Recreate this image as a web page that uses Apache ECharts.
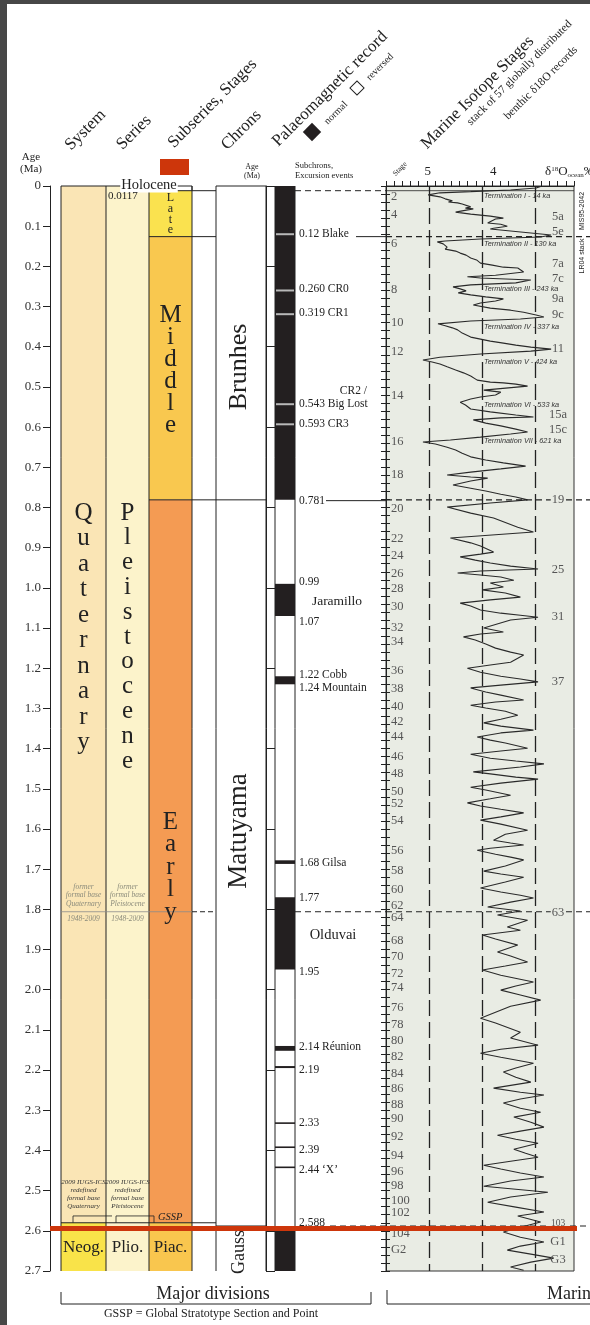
<!DOCTYPE html>
<html><head><meta charset="utf-8">
<script src="https://cdn.jsdelivr.net/npm/echarts@6/dist/echarts.min.js"></script>
<style>html,body{margin:0;padding:0;background:#fff}#c{width:590px;height:1325px}</style>
</head><body><div id="c"></div>
<script>
// ---------------- DATA ----------------
const systemUnits = [["Quaternary", 0, 2.58], ["Neog.", 2.58, 2.7]];
const seriesUnits = [["Pleistocene", 0, 2.58], ["Plio.", 2.58, 2.7]];
const stageUnits = [["Late", 0.0117, 0.126], ["Middle", 0.126, 0.781], ["Early", 0.781, 2.58], ["Piac.", 2.58, 2.7]];
const chronUnits = [["Brunhes", 0, 0.781], ["Matuyama", 0.781, 2.588], ["Gauss", 2.588, 2.7]];
const normalIntervals = [[0, 0.781], [0.99, 1.07], [1.22, 1.24], [1.678, 1.687], [1.77, 1.95], [2.14, 2.152], [2.19, 2.195], [2.33, 2.334], [2.39, 2.394], [2.44, 2.444], [2.588, 2.7]];
const excursions = [0.12, 0.26, 0.319, 0.543, 0.593];
const chronAgeLabels = [0.2, 0.6, 1.0, 1.2, 1.4, 1.8, 2.0, 2.2, 2.4];
const isoAxisLabels = [5, 4];
const isoGuideValues = [4.975, 4.155, 3.345];
const subchronLabels = [
  ["0.12 Blake", 0.12], ["0.260 CR0", 0.257], ["0.319 CR1", 0.315], ["0.543 Big Lost", 0.543],
  ["0.593 CR3", 0.591], ["0.781", 0.783], ["0.99", 0.985], ["1.07", 1.085], ["1.22 Cobb", 1.217],
  ["1.24 Mountain", 1.248], ["1.68 Gilsa", 1.684], ["1.77", 1.773], ["1.95", 1.955],
  ["2.14 Réunion", 2.142], ["2.19", 2.2], ["2.33", 2.331], ["2.39", 2.399], ["2.44 ‘X’", 2.449], ["2.588", 2.58]
];
const evenStages = [
  ["2",0.027],["4",0.072],["6",0.144],["8",0.259],["10",0.341],["12",0.413],["14",0.523],["16",0.637],
  ["18",0.719],["20",0.804],["22",0.878],["24",0.921],["26",0.966],["28",1.003],["30",1.048],["32",1.100],
  ["34",1.135],["36",1.205],["38",1.252],["40",1.297],["42",1.332],["44",1.371],["46",1.421],["48",1.463],
  ["50",1.508],["52",1.538],["54",1.580],["56",1.655],["58",1.705],["60",1.750],["62",1.792],["64",1.822],
  ["68",1.877],["70",1.919],["72",1.959],["74",1.996],["76",2.046],["78",2.086],["80",2.128],["82",2.168],
  ["84",2.208],["86",2.247],["88",2.285],["90",2.320],["92",2.367],["94",2.414],["96",2.454],["98",2.489],
  ["100",2.524],["102",2.556],["104",2.608],["G2",2.648]
];
const peakStages = [
  ["5a",0.077],["5e",0.1145],["7a",0.194],["7c",0.2315],["9a",0.281],["9c",0.321],["11",0.406],
  ["15a",0.570],["15c",0.607],["19",0.7815],["25",0.956],["31",1.073],["37",1.234],["63",1.809],
  ["103",2.581],["G1",2.628],["G3",2.673]
];
const terminations = [
  ["Termination I - 14 ka",0.025],["Termination II - 130 ka",0.144],["Termination III - 243 ka",0.256],
  ["Termination IV - 337 ka",0.351],["Termination V - 424 ka",0.438],["Termination VI - 533 ka",0.545],
  ["Termination VII - 621 ka",0.635]
];
// benthic d18O stack: [age Ma, d18O permil]
const d18O = [
[0.001,3.26],[0.005,3.33],[0.010,3.72],[0.014,4.33],[0.017,4.80],[0.022,4.98],[0.027,4.80],[0.032,4.72],
[0.037,4.61],[0.040,4.67],[0.042,4.53],[0.045,4.46],[0.052,4.33],[0.055,4.41],[0.057,4.29],[0.062,4.46],
[0.065,4.56],[0.070,4.33],[0.075,4.03],[0.080,3.83],[0.082,3.95],[0.092,4.07],[0.095,3.87],[0.100,3.77],
[0.105,3.98],[0.107,4.03],[0.112,3.72],[0.117,3.41],[0.122,3.10],[0.127,3.26],[0.132,4.18],[0.137,4.72],
[0.139,4.84],[0.144,4.75],[0.152,4.69],[0.157,4.72],[0.162,4.56],[0.167,4.49],[0.172,4.40],[0.179,4.33],
[0.184,4.24],[0.192,4.18],[0.197,4.00],[0.202,3.83],[0.204,3.61],[0.214,3.52],[0.222,3.95],[0.226,4.38],
[0.229,4.18],[0.234,3.41],[0.241,3.64],[0.246,4.33],[0.251,4.60],[0.256,4.49],[0.261,4.40],[0.266,4.52],
[0.271,4.33],[0.276,4.10],[0.281,3.83],[0.286,3.95],[0.291,4.18],[0.296,4.29],[0.304,4.03],[0.309,3.72],
[0.314,3.52],[0.321,3.33],[0.326,3.21],[0.331,3.57],[0.336,4.33],[0.343,4.83],[0.348,4.72],[0.353,4.61],
[0.358,4.53],[0.366,4.46],[0.376,4.33],[0.381,4.18],[0.386,4.03],[0.391,3.83],[0.396,3.64],[0.401,3.41],
[0.406,3.10],[0.411,3.41],[0.418,4.18],[0.426,4.80],[0.433,5.06],[0.438,4.92],[0.443,4.80],[0.450,4.69],
[0.458,4.56],[0.465,4.44],[0.473,4.33],[0.483,4.23],[0.488,4.03],[0.490,3.83],[0.493,3.64],[0.498,3.46],
[0.508,4.13],[0.513,3.87],[0.520,3.95],[0.525,4.18],[0.530,4.33],[0.538,4.49],[0.545,4.41],[0.555,4.33],
[0.562,4.03],[0.570,3.64],[0.575,3.37],[0.577,3.87],[0.582,4.29],[0.590,4.10],[0.597,3.87],[0.605,3.64],
[0.612,3.46],[0.617,3.72],[0.625,4.18],[0.632,4.64],[0.637,5.06],[0.642,4.87],[0.650,4.69],[0.657,4.56],
[0.665,4.46],[0.674,4.33],[0.682,4.10],[0.689,3.83],[0.697,3.49],[0.704,3.87],[0.712,4.33],[0.719,4.69],
[0.724,4.33],[0.727,4.07],[0.734,4.33],[0.744,4.60],[0.752,4.33],[0.759,4.10],[0.767,3.87],[0.774,3.64],
[0.781,3.46],[0.789,4.03],[0.799,4.69],[0.814,4.33],[0.826,3.98],[0.849,3.61],[0.861,3.37],[0.876,4.64],
[0.888,4.33],[0.896,4.18],[0.911,3.98],[0.916,4.18],[0.923,4.49],[0.931,4.26],[0.938,4.03],[0.946,3.72],
[0.953,3.30],[0.958,4.18],[0.963,4.53],[0.968,4.18],[0.973,3.87],[0.981,3.67],[0.988,4.03],[0.998,3.83],
[1.005,4.15],[1.013,3.80],[1.023,3.57],[1.030,4.03],[1.038,4.49],[1.045,4.33],[1.055,4.18],[1.063,3.87],
[1.068,3.57],[1.073,3.30],[1.080,3.72],[1.100,4.13],[1.110,3.83],[1.115,4.18],[1.122,4.44],[1.130,4.26],
[1.140,4.10],[1.150,3.95],[1.160,3.72],[1.167,3.52],[1.185,3.72],[1.192,4.03],[1.200,4.38],[1.210,4.18],
[1.220,3.87],[1.227,3.57],[1.234,3.30],[1.242,3.87],[1.249,4.33],[1.259,4.10],[1.267,3.87],[1.279,3.52],
[1.284,3.95],[1.292,4.33],[1.299,4.10],[1.307,3.80],[1.317,3.61],[1.327,3.87],[1.336,4.13],[1.344,3.87],
[1.354,3.37],[1.361,3.87],[1.371,4.23],[1.379,4.03],[1.386,3.80],[1.399,3.46],[1.406,3.87],[1.414,4.33],
[1.424,4.03],[1.431,3.64],[1.438,3.21],[1.446,3.57],[1.458,4.29],[1.463,4.03],[1.471,3.64],[1.476,3.30],
[1.486,3.87],[1.496,4.33],[1.503,4.10],[1.516,3.72],[1.525,4.03],[1.535,4.38],[1.543,4.18],[1.551,3.87],
[1.560,3.52],[1.570,3.87],[1.578,4.18],[1.588,3.87],[1.603,3.46],[1.613,3.80],[1.628,3.98],[1.635,3.72],
[1.640,3.52],[1.648,4.03],[1.653,4.23],[1.663,3.95],[1.670,3.72],[1.677,3.52],[1.692,3.80],[1.705,4.13],
[1.712,3.87],[1.720,3.52],[1.732,3.80],[1.747,4.18],[1.757,3.87],[1.765,3.57],[1.772,3.37],[1.782,3.72],
[1.794,4.07],[1.804,3.57],[1.814,3.92],[1.827,3.46],[1.844,3.77],[1.852,3.57],[1.864,4.15],[1.874,3.95],
[1.889,3.61],[1.906,3.92],[1.916,3.72],[1.931,3.46],[1.941,3.80],[1.951,4.15],[1.964,3.87],[1.981,3.37],
[1.991,3.64],[2.001,3.87],[2.013,3.57],[2.026,3.26],[2.041,3.72],[2.071,4.18],[2.083,3.95],[2.106,3.57],
[2.120,3.72],[2.138,3.30],[2.148,3.87],[2.158,4.18],[2.168,3.87],[2.183,3.37],[2.195,3.64],[2.205,3.83],
[2.218,3.64],[2.230,3.41],[2.245,3.98],[2.255,3.57],[2.262,3.21],[2.272,3.57],[2.282,3.83],[2.295,3.57],
[2.305,3.26],[2.317,3.67],[2.330,3.41],[2.342,3.21],[2.352,3.57],[2.362,3.92],[2.372,3.64],[2.382,3.30],
[2.397,3.67],[2.407,3.49],[2.417,3.30],[2.427,3.72],[2.437,4.13],[2.446,3.87],[2.456,3.57],[2.466,3.21],
[2.476,3.72],[2.489,4.13],[2.504,3.15],[2.516,3.72],[2.529,4.07],[2.541,3.64],[2.553,3.21],[2.563,3.61],
[2.578,3.26],[2.591,3.57],[2.603,3.83],[2.616,3.57],[2.628,3.21],[2.638,3.57],[2.648,3.77],[2.658,3.41],
[2.668,3.06],[2.678,3.41],[2.690,3.72],[2.698,3.52]
];

// ---------------- LAYOUT / STYLE ----------------
const SERIF = 'Liberation Serif';
const SANS = 'Liberation Sans';
const COLX = {system:[61,106], series:[106,149], stage:[149,192], chron:[216,266], mag:[275,295]};
const COLORS = {"Quaternary":"#FAE5B5","Neog.":"#F9E349","Pleistocene":"#FCF3CB","Plio.":"#FCF3CB",
  "Late":"#FAE24F","Middle":"#F9C84F","Early":"#F49B53","Piac.":"#F9C64E",
  "Brunhes":"#FFFFFF","Matuyama":"#FFFFFF","Gauss":"#FFFFFF"};
const INK = '#222';
const PANEL_BG = '#E9ECE4';

const chart = echarts.init(document.getElementById('c'));

function unitSeries(units, key) {
  return {
    type:'custom', xAxisIndex:0, yAxisIndex:0, silent:true, z:1,
    data: units.map(u => [0.5, u[1], u[2]]),
    renderItem: (params, api) => {
      const y0 = api.coord([0.5, api.value(1)])[1];
      const y1 = api.coord([0.5, api.value(2)])[1];
      const [xa, xb] = COLX[key];
      return {type:'rect', shape:{x:xa, y:y0, width:xb-xa, height:y1-y0},
        style:{fill: key === 'mag' ? '#231F20' : COLORS[units[params.dataIndex][0]]}};
    }
  };
}

const ageFmt = v => v === 0 ? '0' : (Math.round(v*10)/10).toFixed(1);

chart.setOption({
  animation:false,
  grid:[
    {left:50, top:186, width:340, height:1085},
    {left:266, top:186, width:9, height:1085},
    {left:386, top:186, width:188, height:1085, show:true, backgroundColor:PANEL_BG, borderColor:'#333', borderWidth:1}
  ],
  xAxis:[
    {gridIndex:0, type:'value', min:0, max:1, show:false},
    {gridIndex:1, type:'value', min:0, max:1, show:false},
    {gridIndex:2, type:'value', min:2.75, max:5.625, interval:0.125, inverse:true, position:'top',
      axisLine:{show:true, lineStyle:{color:INK, width:1}},
      axisTick:{show:true, length:5, lineStyle:{color:INK}},
      axisLabel:{show:false}, splitLine:{show:false}}
  ],
  yAxis:[
    {gridIndex:0, type:'value', min:0, max:2.7, interval:0.1, inverse:true,
      axisLine:{show:true, lineStyle:{color:INK, width:1}},
      axisTick:{show:true, length:7, lineStyle:{color:INK}},
      axisLabel:{formatter:ageFmt, fontFamily:SERIF, fontSize:13, color:'#333', margin:9},
      splitLine:{show:false}},
    {gridIndex:0, type:'value', min:0, max:2.7, interval:0.02, inverse:true,
      axisLine:{show:false}, axisTick:{show:true, inside:true, length:4, lineStyle:{color:INK}},
      axisLabel:{show:false}, splitLine:{show:false}},
    {gridIndex:1, type:'value', min:0, max:2.7, interval:0.2, inverse:true,
      axisLine:{show:true, lineStyle:{color:INK}},
      axisTick:{show:true, inside:true, length:9, lineStyle:{color:INK}},
      axisLabel:{formatter: v => chronAgeLabels.some(a => Math.abs(a - v) < 1e-6) ? v.toFixed(1) : '',
        fontFamily:SERIF, fontSize:13, color:'#333', margin:5},
      splitLine:{show:false}},
    {gridIndex:2, type:'value', min:0, max:2.7, interval:0.02, inverse:true,
      axisLine:{show:true, lineStyle:{color:INK}},
      axisTick:{show:true, length:5, lineStyle:{color:INK}},
      axisLabel:{show:false}, splitLine:{show:false}}
  ],
  series:[
    unitSeries(systemUnits, 'system'),
    unitSeries(seriesUnits, 'series'),
    unitSeries(stageUnits, 'stage'),
    unitSeries(chronUnits, 'chron'),
    unitSeries(normalIntervals.map(n => ['n', n[0], n[1]]), 'mag'),
    {type:'line', xAxisIndex:2, yAxisIndex:3, data:d18O.map(p => [p[1], p[0]]),
      showSymbol:false, symbol:'none', silent:true, z:5,
      lineStyle:{color:'#2a2a2a', width:1.1},
      markLine:{silent:true, symbol:'none', label:{show:false},
        lineStyle:{color:INK, width:1.3, type:[16,6]},
        data: isoGuideValues.map(v => ({xAxis:v}))}}
  ]
});

// --------------- annotations ---------------
const Y = a => chart.convertToPixel({yAxisIndex:0}, a);
const XI = v => chart.convertToPixel({xAxisIndex:2}, v);
const G = [];
function L(x1, y1, x2, y2, o) {
  o = o || {};
  G.push({type:'line', silent:true, z:o.z || 10, shape:{x1, y1, x2, y2},
    style:{stroke:o.c || INK, lineWidth:o.w || 1, lineDash:o.dash || null}});
}
function T(x, y, text, o) {
  o = o || {};
  const st = {text, fill:o.c || INK, fontFamily:o.ff || SERIF, fontSize:o.fs || 12,
    fontStyle:o.it ? 'italic' : 'normal', align:o.al || 'center', verticalAlign:o.va || 'middle'};
  if (o.lh) st.lineHeight = o.lh;
  if (o.bg) { st.backgroundColor = o.bg; st.padding = o.pad || [0, 2]; }
  if (o.rich) st.rich = o.rich;
  G.push({type:'text', silent:true, z:o.z || 20, x, y, rotation:o.rot || 0, style:st});
}
function R(x, y, w, h, fill, z, o) {
  G.push({type:'rect', silent:true, z:z || 10, shape:{x, y, width:w, height:h},
    style:Object.assign({fill}, o || {})});
}

// column verticals
[61, 106, 149, 192].forEach(x => L(x, Y(0), x, Y(2.7)));
L(216, Y(0), 216, Y(2.7)); L(266, Y(0), 266, Y(2.7));
L(275, Y(0), 275, Y(2.7)); L(295, Y(0), 295, Y(2.7));
// tops
L(61, Y(0), 106, Y(0)); L(216, Y(0), 266, Y(0)); L(106, Y(0), 192, Y(0)); L(192, Y(0), 192, Y(0.0117));
// boundaries
L(149, Y(0.0117), 216, Y(0.0117));
L(295, Y(0.0117), 386, Y(0.0117), {dash:[6,4]});
L(386, Y(0.0117), 574, Y(0.0117), {w:0.8});
L(149, Y(0.126), 216, Y(0.126));
L(356, Y(0.126), 386, Y(0.126));
L(386, Y(0.126), 590, Y(0.126), {dash:[6,4], w:1.2});
L(149, Y(0.781), 266, Y(0.781));
L(326, Y(0.783), 386, Y(0.783));
L(386, Y(0.781), 590, Y(0.781), {dash:[6,4], w:1.2});
L(61, Y(1.806), 192, Y(1.806), {c:'#8a8a8a', w:0.8});
L(192, Y(1.806), 216, Y(1.806), {dash:[5,3]});
L(295, Y(1.806), 386, Y(1.806), {dash:[6,4]});
L(386, Y(1.806), 590, Y(1.806), {dash:[6,4], w:1.2});
L(61, Y(2.58), 216, Y(2.58));
L(216, Y(2.588), 266, Y(2.588));
L(330, Y(2.588), 590, Y(2.588), {dash:[6,4], w:1.2});
// excursions
excursions.forEach(a => L(276, Y(a), 294, Y(a), {c:'#B8B8B8', w:2, z:12}));

// stratigraphic names
T(83.5, Y(0) + 327 - 12.75, 'Q\nu\na\nt\ne\nr\nn\na\nr\ny', {fs:25, lh:25.5, va:'top'});
T(127.5, Y(0) + 327 - 12.4, 'P\nl\ne\ni\ns\nt\no\nc\ne\nn\ne', {fs:25, lh:24.8, va:'top'});
T(170.5, 198 - 5.35, 'L\na\nt\ne', {fs:12, lh:10.7, va:'top'});
T(170.5, 315 - 11, 'M\ni\nd\nd\nl\ne', {fs:25, lh:22, va:'top'});
T(170.5, 822 - 11.25, 'E\na\nr\nl\ny', {fs:25, lh:22.5, va:'top'});
T(83.5, (Y(2.58) + Y(2.7)) / 2 + 1, 'Neog.', {fs:17});
T(127.5, (Y(2.58) + Y(2.7)) / 2 + 1, 'Plio.', {fs:17});
T(170.5, (Y(2.58) + Y(2.7)) / 2 + 1, 'Piac.', {fs:17});
T(149, Y(0) - 1, 'Holocene', {fs:14.5, bg:'#fff', pad:[0,1]});
T(108, Y(0) + 10, '0.0117', {fs:11, al:'left'});
T(239, 367, 'Brunhes', {fs:26, rot:Math.PI/2});
T(239, 831, 'Matuyama', {fs:27, rot:Math.PI/2});
T(239, 1252, 'Gauss', {fs:18, rot:Math.PI/2});

// former / redefined base notes
const noteC = '#8c8c7c';
[[83.5,'Quaternary'],[127.5,'Pleistocene']].forEach(([x, n]) => {
  T(x, Y(1.806) - 4, 'former\nformal base\n' + n, {fs:7.5, it:true, c:noteC, lh:8.3, va:'bottom'});
  T(x, Y(1.806) + 7, '1948-2009', {fs:7.5, it:true, c:noteC});
  T(x, Y(2.58) - 45, '2009 IUGS-ICS\nredefined\nformal base\n' + n, {fs:7, it:true, c:'#333', lh:8.2, va:'top'});
});
const ya = Y(2.563), yb = Y(2.58);
L(73, ya, 112, ya, {w:0.8}); L(73, ya, 73, yb, {w:0.8});
L(116, ya, 154, ya, {w:0.8}); L(116, ya, 116, yb, {w:0.8}); L(154, ya, 154, yb, {w:0.8});
T(158, ya + 1, 'GSSP', {fs:10.5, it:true, al:'left'});

// subchron labels
subchronLabels.forEach(([t, a]) => T(299, Y(a), t, {fs:11.5, al:'left'}));
T(367, Y(0.510), 'CR2 /', {fs:11.5, al:'right'});
T(337, Y(1.033), 'Jaramillo', {fs:13.5});
T(333, Y(1.865), 'Olduvai', {fs:14.5});

// isotope panel labels
evenStages.forEach(([t, a]) => T(391, Y(a), t, {fs:12.5, al:'left', c:'#555'}));
peakStages.forEach(([t, a]) => T(558, Y(a), t,
  {fs: t === '103' ? 9.5 : 12.5, c:'#555', bg:(t==='19'||t==='63'||t==='103') ? PANEL_BG : null, pad:[0,1]}));
terminations.forEach(([t, a]) => T(484, Y(a), t, {fs:7.3, ff:SANS, it:true, al:'left', c:'#333'}));
isoAxisLabels.forEach(v => T(XI(v) + 1, 172, String(v), {fs:13}));
T(545, 172, '{a|δ}{b|18}{a|O}{c|ocean}{a|‰}', {al:'left',
  rich:{a:{fontFamily:SERIF, fontSize:13, fill:INK}, b:{fontFamily:SERIF, fontSize:7, fill:INK, verticalAlign:'top'},
        c:{fontFamily:SERIF, fontSize:7, fill:INK, verticalAlign:'bottom'}}});
T(400, 169, 'Stage', {fs:7.5, rot:Math.PI/4});
T(582, 211, 'MIS95-2042', {fs:7, ff:SANS, rot:Math.PI/2});
T(582, 256, 'LR04 stack', {fs:7, ff:SANS, rot:Math.PI/2});

// column headers
T(31, 157, 'Age', {fs:11}); T(31, 169, '(Ma)', {fs:11});
T(252, 167, 'Age', {fs:8}); T(252, 176, '(Ma)', {fs:8});
T(295, 166, 'Subchrons,', {fs:8.5, al:'left'}); T(295, 176, 'Excursion events', {fs:8.5, al:'left'});
const R45 = Math.PI / 4;
T(85.5, 130, 'System', {fs:17, rot:R45});
T(134, 132.5, 'Series', {fs:17, rot:R45});
T(212.5, 103.5, 'Subseries, Stages', {fs:17, rot:R45});
T(241.5, 130, 'Chrons', {fs:17, rot:R45});
T(330, 89, 'Palaeomagnetic record', {fs:17, rot:R45});
G.push({type:'rect', silent:true, z:20, x:312, y:132, rotation:R45, shape:{x:-6.5, y:-6.5, width:13, height:13}, style:{fill:'#231F20'}});
T(336, 113, 'normal', {fs:10, rot:R45});
G.push({type:'rect', silent:true, z:20, x:357, y:88, rotation:R45, shape:{x:-5, y:-5, width:10, height:10}, style:{fill:'#fff', stroke:INK, lineWidth:1}});
T(380, 67, 'reversed', {fs:10, rot:R45});
T(477.5, 92.5, 'Marine Isotope Stages', {fs:17, rot:R45});
T(519.5, 73, 'stack of 57 globally distributed', {fs:11.5, rot:R45});
T(541, 83, 'benthic δ18O records', {fs:11.5, rot:R45});

// bottom brackets
L(61, 1292, 61, 1304); L(61, 1304, 371, 1304); L(371, 1292, 371, 1304);
T(213, 1294, 'Major divisions', {fs:18});
T(211, 1314, 'GSSP = Global Stratotype Section and Point', {fs:12});
L(387, 1290, 387, 1304); L(387, 1304, 590, 1304);
T(547, 1294, 'Marine Isotope Stages', {fs:18, al:'left'});

// overlay marks and frame
R(160, 159, 29, 16, '#CD360B', 40);
R(50, Y(2.594) - 2.5, 527, 5, '#CD360B', 40);
R(0, 0, 590, 4, '#474747', 50);
R(0, 0, 7, 1325, '#474747', 50);

chart.setOption({graphic: G});
</script></body></html>
